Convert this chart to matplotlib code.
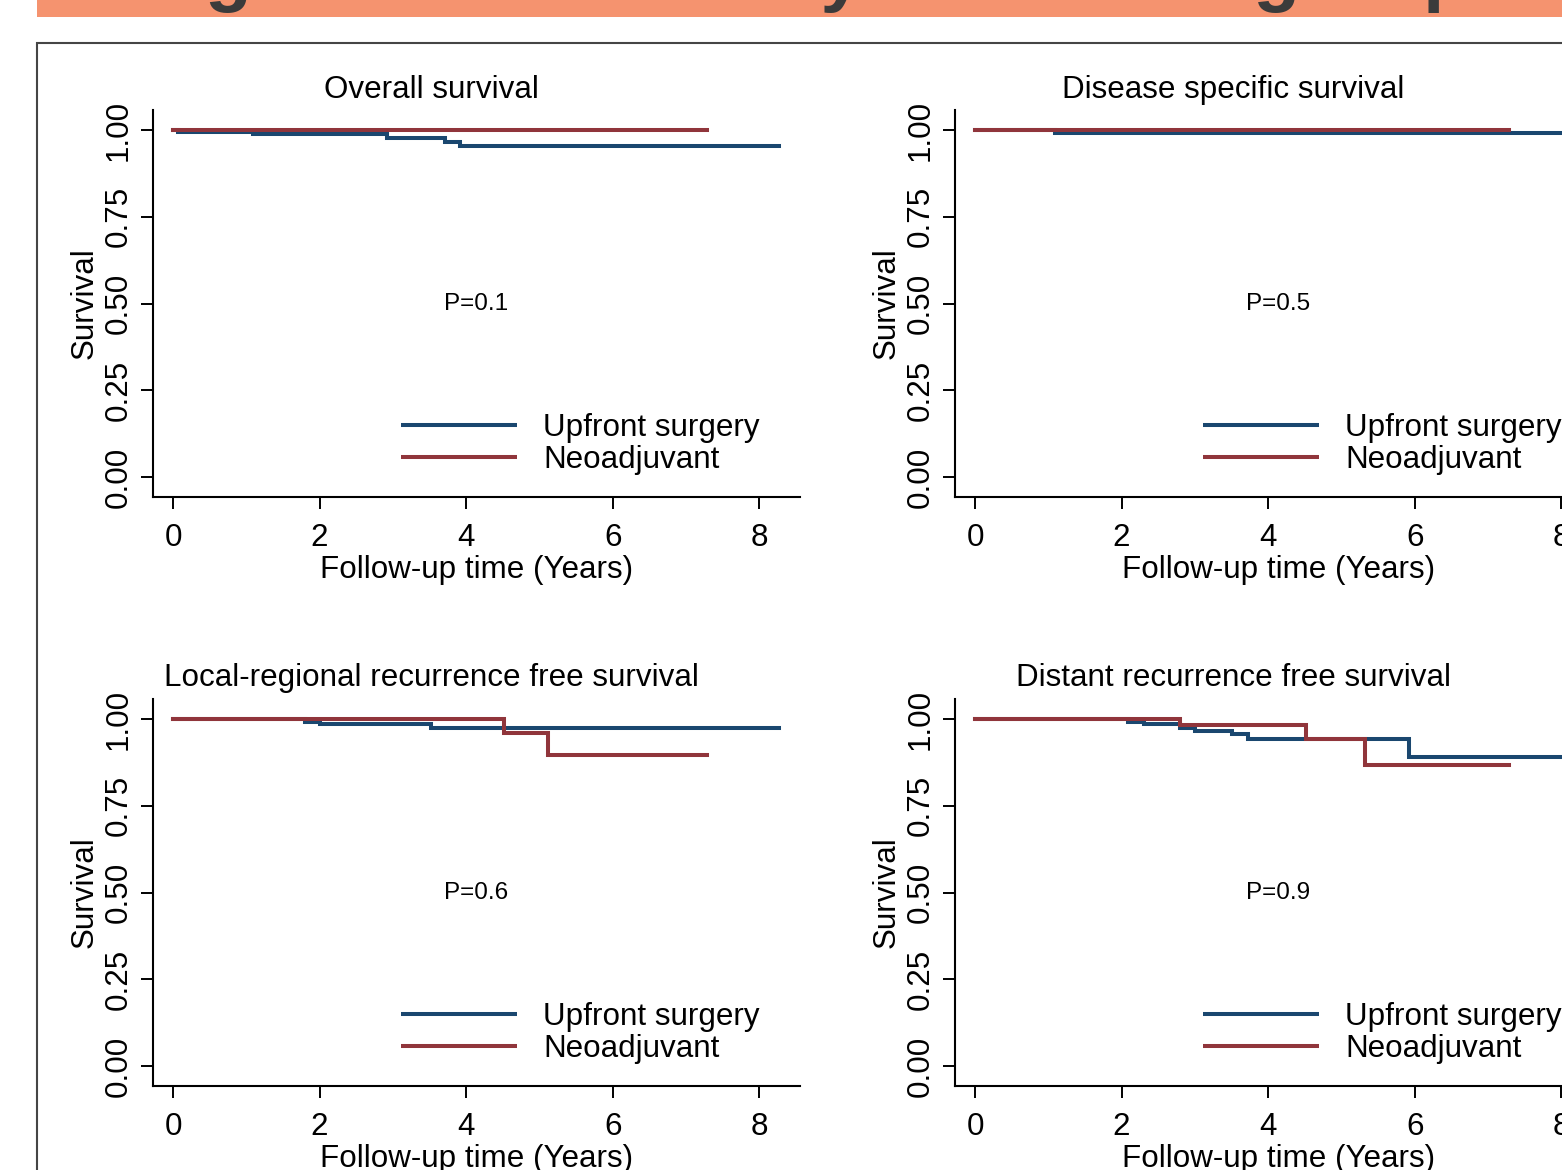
"""Kaplan-Meier curves, upfront surgery vs neoadjuvant, four endpoints (poster panel)."""
import matplotlib
matplotlib.use("Agg")
import matplotlib.pyplot as plt
from matplotlib.patches import Rectangle
from matplotlib.ticker import FormatStrFormatter

plt.rcParams["font.family"] = ["Liberation Sans", "DejaVu Sans"]

UPFRONT = "#1A476F"   # Stata navy
NEOADJ = "#90353B"    # Stata maroon
BANNER = "#F5936F"

# ---- data (years, survival probability after each step) ----
titles = ["Overall survival", "Disease specific survival",
          "Local-regional recurrence free survival", "Distant recurrence free survival"]
p_values = ["P=0.1", "P=0.5", "P=0.6", "P=0.9"]
legend_labels = ["Upfront surgery", "Neoadjuvant"]

os_up_t = [0, 0.07, 1.09, 2.92, 3.71, 3.92, 8.27]
os_up_s = [1.0, 0.993, 0.988, 0.976, 0.966, 0.955, 0.955]
os_neo_t = [0, 7.28]
os_neo_s = [1.0, 1.0]

dss_up_t = [0, 1.09, 8.27]
dss_up_s = [1.0, 0.992, 0.992]
dss_neo_t = [0, 7.28]
dss_neo_s = [1.0, 1.0]

lrr_up_t = [0, 1.80, 2.00, 3.52, 8.27]
lrr_up_s = [1.0, 0.991, 0.985, 0.973, 0.973]
lrr_neo_t = [0, 4.52, 5.12, 7.28]
lrr_neo_s = [1.0, 0.959, 0.895, 0.895]

dr_up_t = [0, 2.09, 2.30, 2.80, 3.00, 3.51, 3.72, 5.92, 8.27]
dr_up_s = [1.0, 0.991, 0.985, 0.973, 0.964, 0.956, 0.943, 0.891, 0.891]
dr_neo_t = [0, 2.80, 4.52, 5.32, 7.28]
dr_neo_s = [1.0, 0.983, 0.941, 0.866, 0.866]

x_ticks = [0, 2, 4, 6, 8]
y_ticks = [0, 0.25, 0.5, 0.75, 1.0]

panels = [
    (os_up_t, os_up_s, os_neo_t, os_neo_s),
    (dss_up_t, dss_up_s, dss_neo_t, dss_neo_s),
    (lrr_up_t, lrr_up_s, lrr_neo_t, lrr_neo_s),
    (dr_up_t, dr_up_s, dr_neo_t, dr_neo_s),
]

W, H = 1562, 1170
FS = 22.6


def px(x, y):
    """pixel (from top-left) -> figure fraction"""
    return x / W, 1 - y / H


def main() -> None:
    fig = plt.figure(figsize=(W / 100, H / 100), dpi=100)

    # poster banner + frame (both run off the crop)
    fig.patches.append(Rectangle(px(37, 17), 2, 1, transform=fig.transFigure,
                                 facecolor=BANNER, edgecolor="none", zorder=0))
    fig.text(*px(65, -3), "Long-term survival by treatment group", fontsize=55,
             fontweight="bold", color="#3b3b3b", ha="left", va="baseline")
    fig.patches.append(Rectangle((37 / W, -0.5), 2, 0.5 + 1 - 43 / H, transform=fig.transFigure,
                                 fill=False, edgecolor="#454545", lw=1.5, zorder=0))

    lefts = [153, 955]
    bottoms = [497, 1086]
    for i, (ut, us, nt, ns) in enumerate(panels):
        r, c = divmod(i, 2)
        l, b = lefts[c], bottoms[r]
        ax = fig.add_axes([l / W, 1 - b / H, 647 / W, 387 / H])

        ax.step(ut, us, where="post", color=UPFRONT, lw=2.9, solid_joinstyle="miter")
        ax.step(nt, ns, where="post", color=NEOADJ, lw=2.9, solid_joinstyle="miter")

        ax.set_xlim(-0.273, 8.554)
        ax.set_ylim(-0.0576, 1.0576)
        ax.set_xticks(x_ticks)
        ax.set_yticks(y_ticks)
        ax.yaxis.set_major_formatter(FormatStrFormatter("%.2f"))
        for s in ("top", "right"):
            ax.spines[s].set_visible(False)
        for s in ("left", "bottom"):
            ax.spines[s].set_linewidth(1.5)
        ax.tick_params(axis="both", length=8.6, width=1.4, labelsize=FS)
        ax.tick_params(axis="x", pad=10)
        ax.tick_params(axis="y", pad=5.5, labelrotation=90)
        plt.setp(ax.get_yticklabels(), va="center")

        ax.set_xlabel("Follow-up time (Years)", fontsize=FS)
        ax.xaxis.set_label_coords(0.5, -0.150)
        ax.set_ylabel("Survival", fontsize=FS)
        ax.yaxis.set_label_coords(-0.082, 0.5)

        ax.text(0.5, 0.5, p_values[i], transform=ax.get_yaxis_transform(),
                ha="center", va="center", fontsize=17.5)

        # legend drawn as in the Stata graph: keys inside the plot region
        for y, col, lab in zip((0.186, 0.103), (UPFRONT, NEOADJ), legend_labels):
            ax.plot([0.383, 0.563], [y, y], transform=ax.transAxes, color=col, lw=2.9,
                    solid_capstyle="butt", clip_on=False)
            ax.text(0.603, y - 0.007, lab, transform=ax.transAxes, ha="left", va="center",
                    fontsize=FS)

        tx = 431 + 802 * c
        ty = 98 if r == 0 else 686
        fig.text(*px(tx, ty), titles[i], ha="center", va="baseline", fontsize=FS)

    fig.savefig("out.png", dpi=100)


if __name__ == "__main__":
    main()
